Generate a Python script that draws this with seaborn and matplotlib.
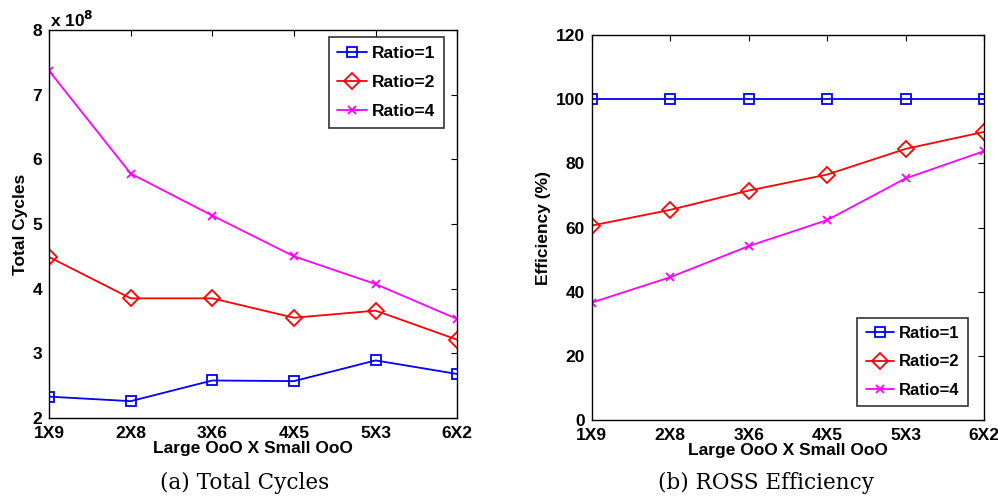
import numpy as np
import pandas as pd
import matplotlib
matplotlib.use("Agg")
import matplotlib.pyplot as plt
import seaborn as sns

# ---- data ----
configs = ["1X9", "2X8", "3X6", "4X5", "5X3", "6X2"]
ratios = ["Ratio=1", "Ratio=2", "Ratio=4"]

# total cycles, in units of 1e8
cycles_r1 = [2.33, 2.26, 2.58, 2.57, 2.89, 2.68]
cycles_r2 = [4.49, 3.85, 3.85, 3.55, 3.66, 3.21]
cycles_r4 = [7.37, 5.78, 5.13, 4.50, 4.07, 3.53]

# ROSS efficiency (%)
eff_r1 = [100, 100, 100, 100, 100, 100]
eff_r2 = [60.6, 65.5, 71.5, 76.5, 84.5, 89.8]
eff_r4 = [36.6, 44.5, 54.2, 62.3, 75.3, 83.8]

colors = {"Ratio=1": "#0000ff", "Ratio=2": "#ff0000", "Ratio=4": "#ff00ff"}
markers = {"Ratio=1": "s", "Ratio=2": "D", "Ratio=4": "x"}
msizes = {"Ratio=1": 7.5, "Ratio=2": 8, "Ratio=4": 6}

cyc = pd.DataFrame({"config": configs * 3,
                    "ratio": np.repeat(ratios, len(configs)),
                    "value": cycles_r1 + cycles_r2 + cycles_r4})
eff = pd.DataFrame({"config": configs * 3,
                    "ratio": np.repeat(ratios, len(configs)),
                    "value": eff_r1 + eff_r2 + eff_r4})

sns.set_style("white")
plt.rcParams["font.family"] = ["Liberation Sans", "DejaVu Sans"]
plt.rcParams["font.weight"] = "bold"
plt.rcParams["mathtext.default"] = "bf"
for k in ["text.color", "axes.labelcolor", "xtick.color", "ytick.color"]:
    plt.rcParams[k] = "black"

FS = 12.5

fig = plt.figure(figsize=(9.98, 4.97), dpi=100)
ax1 = fig.add_axes([0.0491, 0.159, 0.4091, 0.7807])
ax2 = fig.add_axes([0.5929, 0.1549, 0.3931, 0.7747])


def draw(ax, df):
    for r in ratios:
        sub = df[df["ratio"] == r]
        sns.lineplot(data=sub, x="config", y="value", ax=ax, color=colors[r],
                     marker=markers[r], markersize=msizes[r], mfc="none",
                     mec=colors[r], mew=1.3, lw=1.3, label=r, sort=False)
    ax.set_xlim(0, len(configs) - 1)
    ax.set_xticks(range(len(configs)))
    ax.set_xticklabels(configs)
    ax.tick_params(direction="in", top=True, right=True, length=4,
                   labelsize=FS, width=0.8)
    ax.tick_params(axis="x", pad=6)
    ax.tick_params(axis="y", pad=5)
    for s in ax.spines.values():
        s.set_color("black")
        s.set_linewidth(1.0)
    ax.set_xlabel("Large OoO X Small OoO", fontsize=FS, fontweight="bold", labelpad=0)
    for lab in ax.get_xticklabels() + ax.get_yticklabels():
        lab.set_fontweight("bold")


legend_kw = dict(frameon=True, fancybox=False, edgecolor="black",
                 handlelength=1.7, handletextpad=0.3, borderpad=0.5,
                 labelspacing=0.8, borderaxespad=0)

draw(ax1, cyc)
ax1.set_ylim(2, 8)
ax1.set_yticks(range(2, 9))
ax1.set_ylabel("Total Cycles", fontsize=FS, fontweight="bold", labelpad=3)
ax1.text(0.002, 1.0, r"x 10$^{8}$", transform=ax1.transAxes, fontsize=FS,
         fontweight="bold", va="bottom", ha="left")
leg1 = ax1.legend(loc="upper right", fontsize=FS, bbox_to_anchor=(0.968, 0.982),
                  **legend_kw)
leg1.get_frame().set_linewidth(1.2)

draw(ax2, eff)
ax2.set_ylim(0, 120)
ax2.set_yticks(range(0, 121, 20))
ax2.set_ylabel("Efficiency (%)", fontsize=FS, fontweight="bold", labelpad=3)
leg2 = ax2.legend(loc="lower right", fontsize=12, bbox_to_anchor=(0.959, 0.036),
                  **legend_kw)
leg2.get_frame().set_linewidth(1.2)

for t in leg1.get_texts() + leg2.get_texts():
    t.set_fontweight("bold")

fig.text(0.2455, 0.028, "(a) Total Cycles", fontsize=15.5, ha="center",
         va="center", family=["DejaVu Serif"], fontweight="normal")
fig.text(0.768, 0.028, "(b) ROSS Efficiency", fontsize=15.5, ha="center",
         va="center", family=["DejaVu Serif"], fontweight="normal")

fig.savefig("out.png", dpi=100)
